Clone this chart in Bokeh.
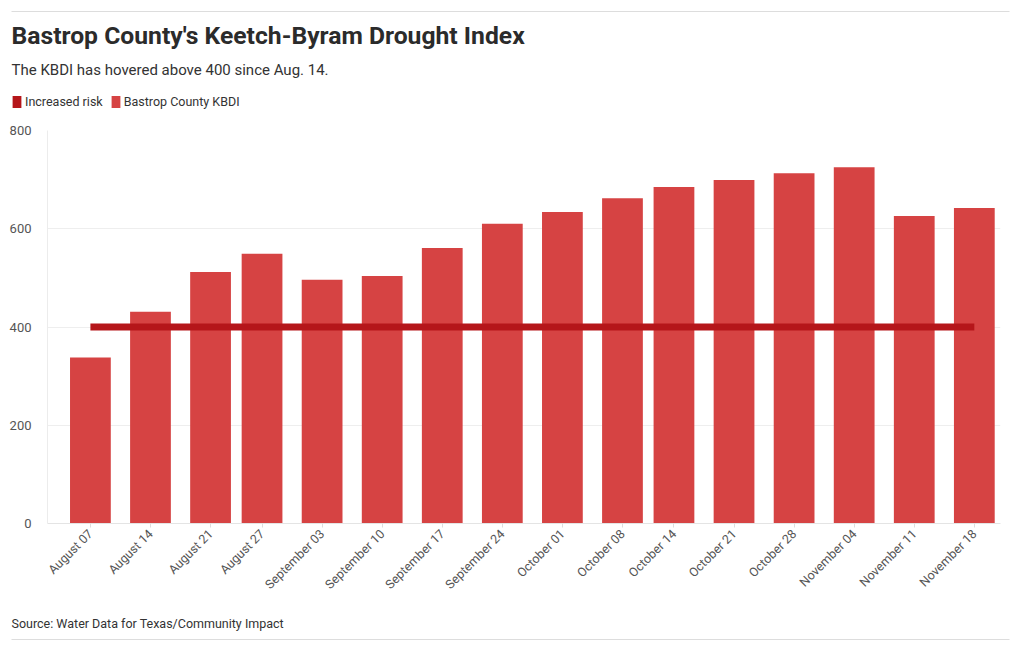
import math
import pandas as pd
from bokeh.plotting import figure
from bokeh.layouts import column
from bokeh.models import (ColumnDataSource, FixedTicker, DatetimeTickFormatter, Range1d,
                          Label, Legend, LegendItem, PolyAnnotation)
from bokeh.embed import file_html
from bokeh.resources import INLINE

# ---- data ----
dates = ["2023-08-07", "2023-08-14", "2023-08-21", "2023-08-27", "2023-09-03", "2023-09-10",
         "2023-09-17", "2023-09-24", "2023-10-01", "2023-10-08", "2023-10-14", "2023-10-21",
         "2023-10-28", "2023-11-04", "2023-11-11", "2023-11-18"]
kbdi = [338, 431, 512, 549, 496, 504, 561, 610, 634, 662, 685, 699, 713, 725, 626, 642]
increased_risk = [400, 400, 400, 400, 400, 400, 400, 400, 400, 400, 400, 400, 400, 400, 400, 400]
y_ticks = [0, 200, 400, 600, 800]

title = "Bastrop County's Keetch-Byram Drought Index"
subtitle = "The KBDI has hovered above 400 since Aug. 14."
source_note = "Source: Water Data for Texas/Community Impact"
series_names = ["Increased risk", "Bastrop County KBDI"]

BAR = "#d64343"
LINE = "#b5161a"
FONT = "Roboto"
W = 1020
HEAD_H, MAIN_H, FOOT_H = 118, 482, 50


def bare(height):
    f = figure(width=W, height=height, output_backend="svg", toolbar_location=None,
               x_axis_location=None, y_axis_location=None,
               x_range=Range1d(0, 1), y_range=Range1d(0, 1),
               min_border=0, min_border_left=0, min_border_right=0,
               min_border_top=0, min_border_bottom=0)
    f.outline_line_color = None
    f.grid.visible = False
    f.frame_align = False
    return f


def rule(f, y):
    f.add_layout(PolyAnnotation(xs=[11, 1009, 1009, 11], ys=[y + 0.5, y + 0.5, y - 0.5, y - 0.5],
                                xs_units="screen", ys_units="screen",
                                fill_color="#dddddd", fill_alpha=1, line_color=None))


def lab(f, text, x, y, size, style="normal", color="#333333"):
    f.add_layout(Label(x=x, y=y, x_units="screen", y_units="screen", text=text,
                       text_font=FONT, text_font_size=size, text_font_style=style,
                       text_color=color, text_baseline="middle", text_align="left"))


# ---- header ----
head = bare(HEAD_H)
rule(head, HEAD_H - 11)
lab(head, title, 11, HEAD_H - 35, "24.7px", "bold", "#2b2b2b")
lab(head, subtitle, 11, HEAD_H - 69, "15px", "normal", "#333333")
sw1 = head.vbar(x=[0], top=[0], bottom=[0], width=0, fill_color=LINE, line_color=None)
sw2 = head.vbar(x=[0], top=[0], bottom=[0], width=0, fill_color=BAR, line_color=None)
legend = Legend(items=[LegendItem(label=series_names[0], renderers=[sw1]),
                       LegendItem(label=series_names[1], renderers=[sw2])],
                orientation="horizontal", location=(11, HEAD_H - 109),
                glyph_width=11, glyph_height=15, label_standoff=3, spacing=7,
                padding=0, margin=0, border_line_color=None, background_fill_alpha=0,
                label_text_font=FONT, label_text_font_size="12.5px",
                label_text_color="#333333", label_height=15)
head.add_layout(legend, "center")

# ---- main chart ----
dt = pd.to_datetime(dates)
src = ColumnDataSource(dict(x=dt, kbdi=kbdi, risk=increased_risk))
DAY = 86400000.0
ms = [(d - pd.Timestamp("1970-01-01")) / pd.Timedelta(milliseconds=1) for d in dt]

p = figure(width=W, height=MAIN_H, output_backend="svg", toolbar_location=None,
           x_axis_type="datetime",
           x_range=Range1d(ms[0] - 5.0 * DAY, ms[-1] + 3.05 * DAY),
           y_range=Range1d(0, 800),
           min_border_left=47, min_border_right=20, min_border_top=12, min_border_bottom=75)
p.outline_line_color = None
p.frame_align = False

p.vbar(x="x", top="kbdi", width=4.75 * DAY, source=src, fill_color=BAR, line_color=None)
p.line(x="x", y="risk", source=src, line_color=LINE, line_width=7)

p.xaxis.ticker = FixedTicker(ticks=ms)
fmt = "%B %d"
p.xaxis.formatter = DatetimeTickFormatter(days=fmt, months=fmt, years=fmt, hours=fmt,
                                          hourmin=fmt, minutes=fmt, minsec=fmt, seconds=fmt,
                                          milliseconds=fmt, microseconds=fmt)
p.xaxis.major_label_orientation = math.pi / 4
p.xaxis.major_label_text_font = FONT
p.xaxis.major_label_text_font_size = "12.5px"
p.xaxis.major_label_text_color = "#555555"
p.xaxis.axis_line_color = "#e4e4e4"
p.xaxis.major_tick_line_color = "#dddddd"
p.xaxis.major_tick_out = 4
p.xaxis.major_tick_in = 0
p.xaxis.minor_tick_line_color = None
p.xaxis.major_label_standoff = 4

p.yaxis.ticker = FixedTicker(ticks=y_ticks)
p.yaxis.major_label_text_font = FONT
p.yaxis.major_label_text_font_size = "13px"
p.yaxis.major_label_text_color = "#555555"
p.yaxis.axis_line_color = "#ececec"
p.yaxis.major_tick_line_color = None
p.yaxis.minor_tick_line_color = None
p.yaxis.major_label_standoff = 10

p.xgrid.grid_line_color = None
p.ygrid.grid_line_color = "#eeeeee"
p.ygrid.ticker = FixedTicker(ticks=y_ticks)

# ---- footer ----
foot = bare(FOOT_H)
lab(foot, source_note, 11, FOOT_H - 23, "12.5px", "normal", "#333333")
rule(foot, FOOT_H - 39)

layout = column(head, p, foot, spacing=0)
open("out.html", "w").write(file_html(layout, INLINE))
